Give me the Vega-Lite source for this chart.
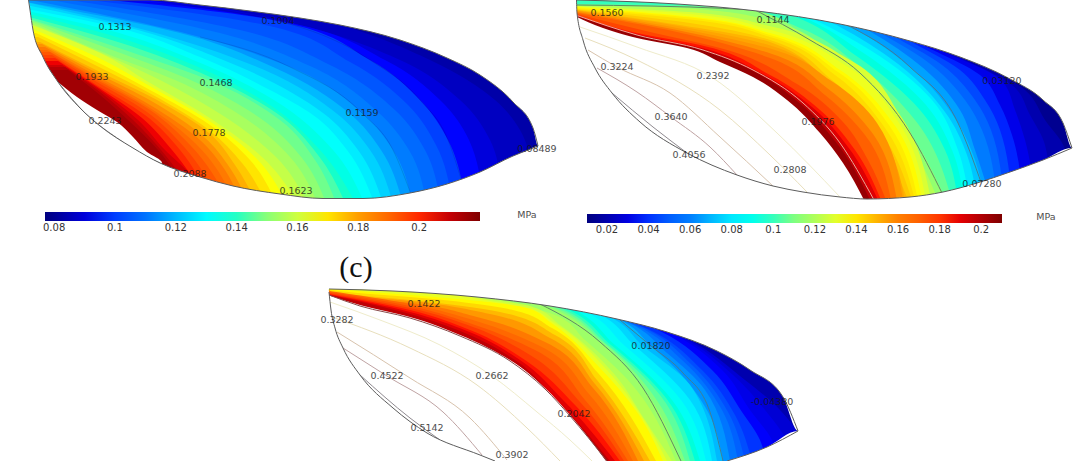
{
"$schema":"https://vega.github.io/schema/vega-lite/v6.json",
"width":1080,"height":461,"padding":0,"autosize":{"type":"none"},"background":"white",
"config":{"view":{"stroke":null},"axis":{"disable":true}},
"datasets":{
"bandsA":[
{"level":0.083,"y":0,"x":541},{"level":0.083,"y":200,"x":541},
{"level":0.0865,"y":0,"x":240},{"level":0.0865,"y":25,"x":340},{"level":0.0865,"y":60,"x":430},{"level":0.0865,"y":100,"x":495},{"level":0.0865,"y":130,"x":520},{"level":0.0865,"y":165,"x":530},{"level":0.0865,"y":200,"x":530},
{"level":0.09,"y":0,"x":180},{"level":0.09,"y":25,"x":300},{"level":0.09,"y":60,"x":400},{"level":0.09,"y":100,"x":460},{"level":0.09,"y":140,"x":490},{"level":0.09,"y":175,"x":500},{"level":0.09,"y":200,"x":502},
{"level":0.095,"y":0,"x":145},{"level":0.095,"y":23,"x":290},{"level":0.095,"y":60,"x":385},{"level":0.095,"y":100,"x":440},{"level":0.095,"y":140,"x":469},{"level":0.095,"y":200,"x":483},
{"level":0.1004,"y":0,"x":110},{"level":0.1004,"y":21,"x":278},{"level":0.1004,"y":60,"x":370},{"level":0.1004,"y":100,"x":420},{"level":0.1004,"y":140,"x":448},{"level":0.1004,"y":182,"x":462},{"level":0.1004,"y":200,"x":465},
{"level":0.104,"y":0,"x":90},{"level":0.104,"y":25,"x":265},{"level":0.104,"y":62,"x":350},{"level":0.104,"y":105,"x":408},{"level":0.104,"y":145,"x":436},{"level":0.104,"y":200,"x":452},
{"level":0.108,"y":0,"x":70},{"level":0.108,"y":30,"x":240},{"level":0.108,"y":65,"x":330},{"level":0.108,"y":110,"x":395},{"level":0.108,"y":150,"x":425},{"level":0.108,"y":200,"x":440},
{"level":0.112,"y":0,"x":50},{"level":0.112,"y":33,"x":220},{"level":0.112,"y":66,"x":310},{"level":0.112,"y":112,"x":378},{"level":0.112,"y":150,"x":409},{"level":0.112,"y":200,"x":426},
{"level":0.1159,"y":0,"x":30},{"level":0.1159,"y":37,"x":200},{"level":0.1159,"y":67,"x":290},{"level":0.1159,"y":113,"x":362},{"level":0.1159,"y":150,"x":393},{"level":0.1159,"y":200,"x":412},
{"level":0.12,"y":0,"x":15},{"level":0.12,"y":33,"x":180},{"level":0.12,"y":67,"x":273},{"level":0.12,"y":113,"x":349},{"level":0.12,"y":150,"x":381},{"level":0.12,"y":200,"x":402},
{"level":0.1236,"y":3,"x":30},{"level":0.1236,"y":30,"x":145},{"level":0.1236,"y":67,"x":257},{"level":0.1236,"y":113,"x":336},{"level":0.1236,"y":150,"x":370},{"level":0.1236,"y":200,"x":392},
{"level":0.1275,"y":6,"x":31},{"level":0.1275,"y":28,"x":130},{"level":0.1275,"y":62,"x":228},{"level":0.1275,"y":113,"x":323},{"level":0.1275,"y":150,"x":358},{"level":0.1275,"y":200,"x":382},
{"level":0.1313,"y":10,"x":32},{"level":0.1313,"y":27,"x":115},{"level":0.1313,"y":57,"x":200},{"level":0.1313,"y":90,"x":270},{"level":0.1313,"y":115,"x":313},{"level":0.1313,"y":150,"x":347},{"level":0.1313,"y":200,"x":373},
{"level":0.135,"y":12,"x":32},{"level":0.135,"y":31,"x":112},{"level":0.135,"y":64,"x":203},{"level":0.135,"y":100,"x":274},{"level":0.135,"y":150,"x":333},{"level":0.135,"y":200,"x":363},
{"level":0.139,"y":15,"x":33},{"level":0.139,"y":35,"x":110},{"level":0.139,"y":70,"x":205},{"level":0.139,"y":105,"x":270},{"level":0.139,"y":150,"x":320},{"level":0.139,"y":200,"x":354},
{"level":0.143,"y":18,"x":33},{"level":0.143,"y":42,"x":118},{"level":0.143,"y":77,"x":210},{"level":0.143,"y":112,"x":275},{"level":0.143,"y":155,"x":318},{"level":0.143,"y":200,"x":344},
{"level":0.1468,"y":20,"x":33},{"level":0.1468,"y":50,"x":125},{"level":0.1468,"y":83,"x":216},{"level":0.1468,"y":120,"x":280},{"level":0.1468,"y":160,"x":315},{"level":0.1468,"y":200,"x":335},
{"level":0.1507,"y":21,"x":33},{"level":0.1507,"y":51,"x":115},{"level":0.1507,"y":82,"x":195},{"level":0.1507,"y":118,"x":260},{"level":0.1507,"y":158,"x":302},{"level":0.1507,"y":200,"x":325},
{"level":0.1545,"y":23,"x":34},{"level":0.1545,"y":53,"x":105},{"level":0.1545,"y":80,"x":175},{"level":0.1545,"y":115,"x":240},{"level":0.1545,"y":157,"x":290},{"level":0.1545,"y":200,"x":316},
{"level":0.1584,"y":25,"x":34},{"level":0.1584,"y":55,"x":106},{"level":0.1584,"y":80,"x":160},{"level":0.1584,"y":115,"x":222},{"level":0.1584,"y":157,"x":276},{"level":0.1584,"y":200,"x":306},
{"level":0.1623,"y":26,"x":34},{"level":0.1623,"y":57,"x":108},{"level":0.1623,"y":80,"x":145},{"level":0.1623,"y":115,"x":205},{"level":0.1623,"y":157,"x":262},{"level":0.1623,"y":200,"x":296},
{"level":0.166,"y":30,"x":35},{"level":0.166,"y":61,"x":105},{"level":0.166,"y":85,"x":148},{"level":0.166,"y":120,"x":208},{"level":0.166,"y":158,"x":256},{"level":0.166,"y":200,"x":285},
{"level":0.17,"y":33,"x":36},{"level":0.17,"y":65,"x":103},{"level":0.17,"y":90,"x":150},{"level":0.17,"y":125,"x":210},{"level":0.17,"y":160,"x":250},{"level":0.17,"y":200,"x":275},
{"level":0.174,"y":37,"x":38},{"level":0.174,"y":68,"x":101},{"level":0.174,"y":95,"x":153},{"level":0.174,"y":130,"x":209},{"level":0.174,"y":163,"x":242},{"level":0.174,"y":200,"x":265},
{"level":0.1778,"y":42,"x":40},{"level":0.1778,"y":72,"x":100},{"level":0.1778,"y":100,"x":157},{"level":0.1778,"y":133,"x":209},{"level":0.1778,"y":165,"x":235},{"level":0.1778,"y":200,"x":255},
{"level":0.1816,"y":44,"x":42},{"level":0.1816,"y":73,"x":97},{"level":0.1816,"y":102,"x":153},{"level":0.1816,"y":137,"x":204},{"level":0.1816,"y":168,"x":230},{"level":0.1816,"y":200,"x":247},
{"level":0.1855,"y":47,"x":45},{"level":0.1855,"y":75,"x":95},{"level":0.1855,"y":105,"x":150},{"level":0.1855,"y":140,"x":200},{"level":0.1855,"y":170,"x":225},{"level":0.1855,"y":200,"x":240},
{"level":0.1894,"y":50,"x":47},{"level":0.1894,"y":76,"x":93},{"level":0.1894,"y":108,"x":150},{"level":0.1894,"y":143,"x":195},{"level":0.1894,"y":200,"x":234},
{"level":0.1933,"y":52,"x":50},{"level":0.1933,"y":77,"x":92},{"level":0.1933,"y":110,"x":150},{"level":0.1933,"y":145,"x":190},{"level":0.1933,"y":200,"x":228},
{"level":0.1966,"y":55,"x":52},{"level":0.1966,"y":79,"x":92},{"level":0.1966,"y":112,"x":147},{"level":0.1966,"y":148,"x":185},{"level":0.1966,"y":200,"x":219},
{"level":0.2,"y":58,"x":55},{"level":0.2,"y":82,"x":92},{"level":0.2,"y":115,"x":145},{"level":0.2,"y":150,"x":180},{"level":0.2,"y":200,"x":210},
{"level":0.2044,"y":61,"x":58},{"level":0.2044,"y":86,"x":96},{"level":0.2044,"y":118,"x":142},{"level":0.2044,"y":150,"x":172},{"level":0.2044,"y":200,"x":207},
{"level":0.2088,"y":65,"x":62},{"level":0.2088,"y":90,"x":100},{"level":0.2088,"y":120,"x":138},{"level":0.2088,"y":150,"x":165},{"level":0.2088,"y":174,"x":190},{"level":0.2088,"y":200,"x":205},
{"level":0.212,"y":67,"x":65},{"level":0.212,"y":92,"x":100},{"level":0.212,"y":120,"x":133},{"level":0.212,"y":150,"x":161},{"level":0.212,"y":200,"x":197},
{"level":0.215,"y":70,"x":68},{"level":0.215,"y":95,"x":100},{"level":0.215,"y":120,"x":128},{"level":0.215,"y":150,"x":158},{"level":0.215,"y":200,"x":190}
],
"bandsB":[
{"level":0.014,"y":0,"x":1076},{"level":0.014,"y":200,"x":1076},
{"level":0.02,"y":0,"x":900},{"level":0.02,"y":60,"x":975},{"level":0.02,"y":90,"x":1025},{"level":0.02,"y":120,"x":1045},{"level":0.02,"y":150,"x":1065},{"level":0.02,"y":200,"x":1070},
{"level":0.025,"y":0,"x":885},{"level":0.025,"y":52,"x":950},{"level":0.025,"y":85,"x":1012},{"level":0.025,"y":115,"x":1030},{"level":0.025,"y":145,"x":1045},{"level":0.025,"y":200,"x":1052},
{"level":0.0312,"y":0,"x":870},{"level":0.0312,"y":45,"x":930},{"level":0.0312,"y":81,"x":1002},{"level":0.0312,"y":110,"x":1015},{"level":0.0312,"y":140,"x":1025},{"level":0.0312,"y":200,"x":1035},
{"level":0.038,"y":0,"x":860},{"level":0.038,"y":42,"x":918},{"level":0.038,"y":75,"x":980},{"level":0.038,"y":105,"x":1000},{"level":0.038,"y":135,"x":1012},{"level":0.038,"y":200,"x":1023},
{"level":0.045,"y":0,"x":850},{"level":0.045,"y":38,"x":905},{"level":0.045,"y":70,"x":960},{"level":0.045,"y":100,"x":985},{"level":0.045,"y":130,"x":1000},{"level":0.045,"y":200,"x":1012},
{"level":0.052,"y":0,"x":835},{"level":0.052,"y":34,"x":890},{"level":0.052,"y":65,"x":942},{"level":0.052,"y":100,"x":975},{"level":0.052,"y":130,"x":991},{"level":0.052,"y":200,"x":1004},
{"level":0.059,"y":0,"x":820},{"level":0.059,"y":30,"x":875},{"level":0.059,"y":60,"x":925},{"level":0.059,"y":100,"x":965},{"level":0.059,"y":130,"x":982},{"level":0.059,"y":200,"x":997},
{"level":0.066,"y":0,"x":805},{"level":0.066,"y":26,"x":860},{"level":0.066,"y":63,"x":917},{"level":0.066,"y":110,"x":960},{"level":0.066,"y":150,"x":975},{"level":0.066,"y":200,"x":991},
{"level":0.0728,"y":0,"x":790},{"level":0.0728,"y":23,"x":843},{"level":0.0728,"y":67,"x":910},{"level":0.0728,"y":123,"x":958},{"level":0.0728,"y":160,"x":975},{"level":0.0728,"y":200,"x":985},
{"level":0.08,"y":0,"x":780},{"level":0.08,"y":21,"x":828},{"level":0.08,"y":58,"x":890},{"level":0.08,"y":112,"x":945},{"level":0.08,"y":155,"x":967},{"level":0.08,"y":200,"x":977},
{"level":0.087,"y":0,"x":770},{"level":0.087,"y":20,"x":815},{"level":0.087,"y":50,"x":870},{"level":0.087,"y":100,"x":932},{"level":0.087,"y":150,"x":958},{"level":0.087,"y":200,"x":969},
{"level":0.093,"y":0,"x":755},{"level":0.093,"y":17,"x":802},{"level":0.093,"y":52,"x":862},{"level":0.093,"y":105,"x":926},{"level":0.093,"y":150,"x":952},{"level":0.093,"y":200,"x":964},
{"level":0.1,"y":0,"x":740},{"level":0.1,"y":15,"x":790},{"level":0.1,"y":55,"x":855},{"level":0.1,"y":110,"x":920},{"level":0.1,"y":150,"x":945},{"level":0.1,"y":200,"x":958},
{"level":0.107,"y":4,"x":577},{"level":0.107,"y":5,"x":650},{"level":0.107,"y":8,"x":740},{"level":0.107,"y":28,"x":800},{"level":0.107,"y":65,"x":858},{"level":0.107,"y":120,"x":915},{"level":0.107,"y":200,"x":952},
{"level":0.1144,"y":5,"x":577},{"level":0.1144,"y":6,"x":650},{"level":0.1144,"y":7,"x":690},{"level":0.1144,"y":10,"x":755},{"level":0.1144,"y":40,"x":810},{"level":0.1144,"y":73,"x":860},{"level":0.1144,"y":133,"x":910},{"level":0.1144,"y":200,"x":946},
{"level":0.121,"y":5.5,"x":577},{"level":0.121,"y":8,"x":680},{"level":0.121,"y":18,"x":760},{"level":0.121,"y":50,"x":830},{"level":0.121,"y":95,"x":880},{"level":0.121,"y":150,"x":915},{"level":0.121,"y":200,"x":938},
{"level":0.128,"y":6,"x":577},{"level":0.128,"y":13,"x":700},{"level":0.128,"y":25,"x":765},{"level":0.128,"y":60,"x":850},{"level":0.128,"y":115,"x":900},{"level":0.128,"y":200,"x":931},
{"level":0.132,"y":6.5,"x":577},{"level":0.132,"y":15,"x":700},{"level":0.132,"y":29,"x":767},{"level":0.132,"y":65,"x":845},{"level":0.132,"y":120,"x":897},{"level":0.132,"y":200,"x":926},
{"level":0.136,"y":7,"x":577},{"level":0.136,"y":18,"x":703},{"level":0.136,"y":33,"x":770},{"level":0.136,"y":70,"x":840},{"level":0.136,"y":123,"x":893},{"level":0.136,"y":200,"x":922},
{"level":0.139,"y":8,"x":577},{"level":0.139,"y":19,"x":703},{"level":0.139,"y":35,"x":770},{"level":0.139,"y":72,"x":838},{"level":0.139,"y":125,"x":889},{"level":0.139,"y":200,"x":918},
{"level":0.142,"y":9,"x":577},{"level":0.142,"y":21,"x":703},{"level":0.142,"y":37,"x":770},{"level":0.142,"y":75,"x":835},{"level":0.142,"y":128,"x":885},{"level":0.142,"y":200,"x":915},
{"level":0.146,"y":9.5,"x":577},{"level":0.146,"y":23,"x":690},{"level":0.146,"y":40,"x":770},{"level":0.146,"y":80,"x":832},{"level":0.146,"y":131,"x":880},{"level":0.146,"y":200,"x":912},
{"level":0.15,"y":10,"x":577},{"level":0.15,"y":25,"x":680},{"level":0.15,"y":42,"x":770},{"level":0.15,"y":85,"x":830},{"level":0.15,"y":135,"x":875},{"level":0.15,"y":200,"x":908},
{"level":0.153,"y":10.5,"x":577},{"level":0.153,"y":26,"x":678},{"level":0.153,"y":46,"x":772},{"level":0.153,"y":83,"x":830},{"level":0.153,"y":129,"x":877},{"level":0.153,"y":200,"x":905},
{"level":0.156,"y":11,"x":577},{"level":0.156,"y":28,"x":677},{"level":0.156,"y":50,"x":775},{"level":0.156,"y":80,"x":830},{"level":0.156,"y":123,"x":877},{"level":0.156,"y":200,"x":903},
{"level":0.163,"y":12,"x":577},{"level":0.163,"y":30,"x":677},{"level":0.163,"y":54,"x":772},{"level":0.163,"y":88,"x":827},{"level":0.163,"y":130,"x":870},{"level":0.163,"y":200,"x":897},
{"level":0.17,"y":13,"x":577},{"level":0.17,"y":32,"x":677},{"level":0.17,"y":58,"x":770},{"level":0.17,"y":95,"x":825},{"level":0.17,"y":135,"x":865},{"level":0.17,"y":200,"x":891},
{"level":0.177,"y":14,"x":577},{"level":0.177,"y":32,"x":650},{"level":0.177,"y":48,"x":720},{"level":0.177,"y":84,"x":797},{"level":0.177,"y":122,"x":843},{"level":0.177,"y":160,"x":868},{"level":0.177,"y":200,"x":886},
{"level":0.184,"y":15,"x":577},{"level":0.184,"y":33,"x":637},{"level":0.184,"y":45,"x":700},{"level":0.184,"y":75,"x":770},{"level":0.184,"y":110,"x":820},{"level":0.184,"y":150,"x":855},{"level":0.184,"y":200,"x":881},
{"level":0.191,"y":15.2,"x":577},{"level":0.191,"y":34,"x":637},{"level":0.191,"y":48,"x":702},{"level":0.191,"y":73,"x":761},{"level":0.191,"y":107,"x":812},{"level":0.191,"y":147,"x":848},{"level":0.191,"y":200,"x":878},
{"level":0.1976,"y":15.5,"x":577},{"level":0.1976,"y":35,"x":637},{"level":0.1976,"y":50,"x":703},{"level":0.1976,"y":70,"x":753},{"level":0.1976,"y":103,"x":803},{"level":0.1976,"y":143,"x":840},{"level":0.1976,"y":200,"x":874},
{"level":0.205,"y":16,"x":577},{"level":0.205,"y":33,"x":630},{"level":0.205,"y":48,"x":697},{"level":0.205,"y":68,"x":747},{"level":0.205,"y":101,"x":797},{"level":0.205,"y":141,"x":835},{"level":0.205,"y":200,"x":870}
],
"bandsC":[
{"level":-0.05,"y":285,"x":802},{"level":-0.05,"y":461,"x":802},
{"level":-0.04,"y":285,"x":560},{"level":-0.04,"y":340,"x":690},{"level":-0.04,"y":380,"x":745},{"level":-0.04,"y":410,"x":780},{"level":-0.04,"y":440,"x":800},{"level":-0.04,"y":461,"x":802},
{"level":-0.035,"y":285,"x":550},{"level":-0.035,"y":337,"x":682},{"level":-0.035,"y":375,"x":733},{"level":-0.035,"y":410,"x":765},{"level":-0.035,"y":440,"x":786},{"level":-0.035,"y":461,"x":791},
{"level":-0.03,"y":285,"x":540},{"level":-0.03,"y":335,"x":675},{"level":-0.03,"y":370,"x":722},{"level":-0.03,"y":410,"x":750},{"level":-0.03,"y":440,"x":772},{"level":-0.03,"y":461,"x":780},
{"level":-0.022,"y":285,"x":530},{"level":-0.022,"y":332,"x":662},{"level":-0.022,"y":370,"x":712},{"level":-0.022,"y":412,"x":742},{"level":-0.022,"y":440,"x":760},{"level":-0.022,"y":461,"x":766},
{"level":-0.015,"y":285,"x":520},{"level":-0.015,"y":330,"x":650},{"level":-0.015,"y":370,"x":702},{"level":-0.015,"y":415,"x":735},{"level":-0.015,"y":461,"x":752},
{"level":-0.008,"y":285,"x":515},{"level":-0.008,"y":327,"x":642},{"level":-0.008,"y":365,"x":692},{"level":-0.008,"y":412,"x":728},{"level":-0.008,"y":461,"x":745},
{"level":0,"y":285,"x":510},{"level":0,"y":325,"x":635},{"level":0,"y":360,"x":682},{"level":0,"y":410,"x":722},{"level":0,"y":461,"x":738},
{"level":0.009,"y":285,"x":505},{"level":0.009,"y":322,"x":627},{"level":0.009,"y":353,"x":667},{"level":0.009,"y":390,"x":705},{"level":0.009,"y":461,"x":730},
{"level":0.0182,"y":285,"x":500},{"level":0.0182,"y":320,"x":620},{"level":0.0182,"y":346,"x":651},{"level":0.0182,"y":368,"x":675},{"level":0.0182,"y":412,"x":708},{"level":0.0182,"y":461,"x":723},
{"level":0.026,"y":285,"x":495},{"level":0.026,"y":315,"x":605},{"level":0.026,"y":346,"x":643},{"level":0.026,"y":385,"x":690},{"level":0.026,"y":461,"x":717},
{"level":0.034,"y":285,"x":490},{"level":0.034,"y":310,"x":590},{"level":0.034,"y":346,"x":635},{"level":0.034,"y":400,"x":690},{"level":0.034,"y":461,"x":712},
{"level":0.042,"y":285,"x":485},{"level":0.042,"y":308,"x":577},{"level":0.042,"y":346,"x":625},{"level":0.042,"y":400,"x":681},{"level":0.042,"y":461,"x":706},
{"level":0.05,"y":285,"x":480},{"level":0.05,"y":306,"x":565},{"level":0.05,"y":345,"x":615},{"level":0.05,"y":400,"x":672},{"level":0.05,"y":461,"x":700},
{"level":0.0575,"y":285,"x":475},{"level":0.0575,"y":305,"x":557},{"level":0.0575,"y":345,"x":611},{"level":0.0575,"y":398,"x":666},{"level":0.0575,"y":461,"x":695},
{"level":0.065,"y":285,"x":470},{"level":0.065,"y":304,"x":550},{"level":0.065,"y":345,"x":608},{"level":0.065,"y":395,"x":660},{"level":0.065,"y":461,"x":690},
{"level":0.0725,"y":285,"x":465},{"level":0.0725,"y":304,"x":545},{"level":0.0725,"y":343,"x":604},{"level":0.0725,"y":392,"x":651},{"level":0.0725,"y":461,"x":685},
{"level":0.0802,"y":285,"x":460},{"level":0.0802,"y":304,"x":540},{"level":0.0802,"y":342,"x":600},{"level":0.0802,"y":388,"x":643},{"level":0.0802,"y":461,"x":681},
{"level":0.087,"y":285,"x":455},{"level":0.087,"y":300,"x":505},{"level":0.087,"y":315,"x":555},{"level":0.087,"y":340,"x":585},{"level":0.087,"y":380,"x":628},{"level":0.087,"y":461,"x":676},
{"level":0.094,"y":285,"x":450},{"level":0.094,"y":298,"x":480},{"level":0.094,"y":306,"x":530},{"level":0.094,"y":325,"x":560},{"level":0.094,"y":375,"x":615},{"level":0.094,"y":420,"x":645},{"level":0.094,"y":461,"x":672},
{"level":0.1,"y":285,"x":440},{"level":0.1,"y":298,"x":475},{"level":0.1,"y":308,"x":528},{"level":0.1,"y":322,"x":553},{"level":0.1,"y":370,"x":607},{"level":0.1,"y":415,"x":641},{"level":0.1,"y":461,"x":667},
{"level":0.107,"y":285,"x":300},{"level":0.107,"y":292,"x":370},{"level":0.107,"y":295,"x":410},{"level":0.107,"y":308,"x":527},{"level":0.107,"y":322,"x":550},{"level":0.107,"y":368,"x":600},{"level":0.107,"y":412,"x":637},{"level":0.107,"y":461,"x":663},
{"level":0.116,"y":286,"x":300},{"level":0.116,"y":293,"x":358},{"level":0.116,"y":297,"x":410},{"level":0.116,"y":310,"x":513},{"level":0.116,"y":328,"x":552},{"level":0.116,"y":373,"x":598},{"level":0.116,"y":461,"x":656},
{"level":0.125,"y":288,"x":300},{"level":0.125,"y":294,"x":345},{"level":0.125,"y":300,"x":410},{"level":0.125,"y":312,"x":500},{"level":0.125,"y":335,"x":555},{"level":0.125,"y":380,"x":597},{"level":0.125,"y":461,"x":650},
{"level":0.133,"y":289,"x":315},{"level":0.133,"y":295,"x":342},{"level":0.133,"y":301,"x":410},{"level":0.133,"y":314,"x":490},{"level":0.133,"y":338,"x":550},{"level":0.133,"y":384,"x":595},{"level":0.133,"y":461,"x":644},
{"level":0.1422,"y":290,"x":329},{"level":0.1422,"y":296,"x":340},{"level":0.1422,"y":303,"x":410},{"level":0.1422,"y":317,"x":477},{"level":0.1422,"y":342,"x":545},{"level":0.1422,"y":388,"x":593},{"level":0.1422,"y":461,"x":638},
{"level":0.15,"y":291,"x":329},{"level":0.15,"y":304,"x":410},{"level":0.15,"y":321,"x":476},{"level":0.15,"y":346,"x":540},{"level":0.15,"y":394,"x":589},{"level":0.15,"y":461,"x":633},
{"level":0.158,"y":292,"x":329},{"level":0.158,"y":306,"x":410},{"level":0.158,"y":325,"x":475},{"level":0.158,"y":350,"x":535},{"level":0.158,"y":400,"x":585},{"level":0.158,"y":461,"x":628},
{"level":0.165,"y":293,"x":329},{"level":0.165,"y":308,"x":410},{"level":0.165,"y":327,"x":473},{"level":0.165,"y":355,"x":530},{"level":0.165,"y":402,"x":580},{"level":0.165,"y":461,"x":624},
{"level":0.172,"y":294,"x":329},{"level":0.172,"y":310,"x":410},{"level":0.172,"y":330,"x":470},{"level":0.172,"y":360,"x":525},{"level":0.172,"y":405,"x":575},{"level":0.172,"y":461,"x":620},
{"level":0.181,"y":294.5,"x":329},{"level":0.181,"y":312,"x":410},{"level":0.181,"y":331,"x":467},{"level":0.181,"y":360,"x":520},{"level":0.181,"y":400,"x":563},{"level":0.181,"y":461,"x":615},
{"level":0.19,"y":295,"x":329},{"level":0.19,"y":314,"x":410},{"level":0.19,"y":333,"x":465},{"level":0.19,"y":360,"x":515},{"level":0.19,"y":395,"x":552},{"level":0.19,"y":461,"x":610},
{"level":0.2,"y":295.2,"x":329},{"level":0.2,"y":307,"x":360},{"level":0.2,"y":319,"x":410},{"level":0.2,"y":337,"x":460},{"level":0.2,"y":362,"x":510},{"level":0.2,"y":390,"x":545},{"level":0.2,"y":417,"x":570},{"level":0.2,"y":461,"x":608}
],
"inner":[
{"panel":"a","left":0,"y":82,"x":58},{"panel":"a","left":0,"y":97,"x":77},{"panel":"a","left":0,"y":110,"x":97},{"panel":"a","left":0,"y":122,"x":117},{"panel":"a","left":0,"y":137,"x":133},{"panel":"a","left":0,"y":152,"x":147},{"panel":"a","left":0,"y":163,"x":162},{"panel":"a","left":0,"y":200,"x":162},
{"panel":"b","left":560,"y":17,"x":577},{"panel":"b","left":560,"y":28,"x":603},{"panel":"b","left":560,"y":38,"x":637},{"panel":"b","left":560,"y":48,"x":687},{"panel":"b","left":560,"y":62,"x":720},{"panel":"b","left":560,"y":77,"x":753},{"panel":"b","left":560,"y":100,"x":787},{"panel":"b","left":560,"y":133,"x":820},{"panel":"b","left":560,"y":163,"x":843},{"panel":"b","left":560,"y":200,"x":864},
{"panel":"c","left":300,"y":295.5,"x":329},{"panel":"c","left":300,"y":305,"x":360},{"panel":"c","left":300,"y":317,"x":410},{"panel":"c","left":300,"y":335,"x":460},{"panel":"c","left":300,"y":360,"x":510},{"panel":"c","left":300,"y":388,"x":545},{"panel":"c","left":300,"y":415,"x":570},{"panel":"c","left":300,"y":461,"x":606}
],
"contours":[
{"id":"a1004","tone":"faint","x":110,"y":0},{"id":"a1004","tone":"faint","x":278,"y":21},{"id":"a1004","tone":"faint","x":370,"y":60},{"id":"a1004","tone":"faint","x":420,"y":100},{"id":"a1004","tone":"faint","x":448,"y":140},{"id":"a1004","tone":"faint","x":462,"y":182},
{"id":"a1159","tone":"faint","x":200,"y":37},{"id":"a1159","tone":"faint","x":290,"y":67},{"id":"a1159","tone":"faint","x":362,"y":113},{"id":"a1159","tone":"faint","x":393,"y":150},{"id":"a1159","tone":"faint","x":412,"y":197},
{"id":"a2243","tone":"grey","x":58,"y":82},{"id":"a2243","tone":"grey","x":85,"y":113},{"id":"a2243","tone":"grey","x":117,"y":138},{"id":"a2243","tone":"grey","x":147,"y":157},{"id":"a2243","tone":"grey","x":160,"y":163},
{"id":"b0728","tone":"steel","x":843,"y":23},{"id":"b0728","tone":"steel","x":910,"y":67},{"id":"b0728","tone":"steel","x":958,"y":123},{"id":"b0728","tone":"steel","x":982,"y":185},
{"id":"b1144","tone":"sage","x":755,"y":10},{"id":"b1144","tone":"sage","x":810,"y":40},{"id":"b1144","tone":"sage","x":860,"y":73},{"id":"b1144","tone":"sage","x":910,"y":133},{"id":"b1144","tone":"sage","x":943,"y":195},
{"id":"b1144b","tone":"sage","x":577,"y":5},{"id":"b1144b","tone":"sage","x":650,"y":6},{"id":"b1144b","tone":"sage","x":690,"y":7},{"id":"b1144b","tone":"sage","x":755,"y":10},
{"id":"b1976","tone":"rose","x":577,"y":15.5},{"id":"b1976","tone":"rose","x":637,"y":35},{"id":"b1976","tone":"rose","x":703,"y":50},{"id":"b1976","tone":"rose","x":753,"y":70},{"id":"b1976","tone":"rose","x":803,"y":103},{"id":"b1976","tone":"rose","x":840,"y":143},{"id":"b1976","tone":"rose","x":874,"y":200},
{"id":"b2392","tone":"pale","x":580,"y":27},{"id":"b2392","tone":"pale","x":637,"y":47},{"id":"b2392","tone":"pale","x":713,"y":78},{"id":"b2392","tone":"pale","x":777,"y":133},{"id":"b2392","tone":"pale","x":840,"y":197},
{"id":"b2808","tone":"sand","x":585,"y":38},{"id":"b2808","tone":"sand","x":637,"y":60},{"id":"b2808","tone":"sand","x":720,"y":110},{"id":"b2808","tone":"sand","x":770,"y":155},{"id":"b2808","tone":"sand","x":807,"y":192},
{"id":"b3224","tone":"clay","x":588,"y":50},{"id":"b3224","tone":"clay","x":617,"y":67},{"id":"b3224","tone":"clay","x":670,"y":93},{"id":"b3224","tone":"clay","x":720,"y":137},{"id":"b3224","tone":"clay","x":773,"y":186},
{"id":"b3640","tone":"mauve","x":597,"y":68},{"id":"b3640","tone":"mauve","x":637,"y":92},{"id":"b3640","tone":"mauve","x":671,"y":117},{"id":"b3640","tone":"mauve","x":710,"y":147},{"id":"b3640","tone":"mauve","x":737,"y":175},
{"id":"b4056","tone":"slate","x":612,"y":93},{"id":"b4056","tone":"slate","x":653,"y":127},{"id":"b4056","tone":"slate","x":687,"y":153},
{"id":"c0182","tone":"steel","x":620,"y":320},{"id":"c0182","tone":"steel","x":651,"y":346},{"id":"c0182","tone":"steel","x":683,"y":373},{"id":"c0182","tone":"steel","x":710,"y":412},{"id":"c0182","tone":"steel","x":723,"y":461},
{"id":"c0802","tone":"sage","x":540,"y":304},{"id":"c0802","tone":"sage","x":600,"y":342},{"id":"c0802","tone":"sage","x":643,"y":388},{"id":"c0802","tone":"sage","x":681,"y":461},
{"id":"c2042","tone":"brown","x":329,"y":295},{"id":"c2042","tone":"brown","x":360,"y":306},{"id":"c2042","tone":"brown","x":410,"y":318},{"id":"c2042","tone":"brown","x":460,"y":336},{"id":"c2042","tone":"brown","x":510,"y":361},{"id":"c2042","tone":"brown","x":545,"y":389},{"id":"c2042","tone":"brown","x":570,"y":416},{"id":"c2042","tone":"brown","x":607,"y":461},
{"id":"c2662","tone":"pale","x":330,"y":302},{"id":"c2662","tone":"pale","x":380,"y":320},{"id":"c2662","tone":"pale","x":440,"y":345},{"id":"c2662","tone":"pale","x":492,"y":376},{"id":"c2662","tone":"pale","x":537,"y":412},{"id":"c2662","tone":"pale","x":570,"y":440},{"id":"c2662","tone":"pale","x":592,"y":461},
{"id":"c3282","tone":"sand","x":332,"y":317},{"id":"c3282","tone":"sand","x":410,"y":348},{"id":"c3282","tone":"sand","x":477,"y":385},{"id":"c3282","tone":"sand","x":527,"y":428},{"id":"c3282","tone":"sand","x":560,"y":461},
{"id":"c3902","tone":"clay","x":337,"y":332},{"id":"c3902","tone":"clay","x":410,"y":378},{"id":"c3902","tone":"clay","x":470,"y":418},{"id":"c3902","tone":"clay","x":507,"y":460},
{"id":"c4522","tone":"mauve","x":343,"y":348},{"id":"c4522","tone":"mauve","x":387,"y":376},{"id":"c4522","tone":"mauve","x":443,"y":412},{"id":"c4522","tone":"mauve","x":482,"y":455},
{"id":"c5142","tone":"slate","x":360,"y":375},{"id":"c5142","tone":"slate","x":410,"y":418},{"id":"c5142","tone":"slate","x":440,"y":440}
],
"edges":[
{"edge":"a-top","limit":0,"drawn":0,"x":0,"y":0},{"edge":"a-top","limit":0,"drawn":1,"x":29,"y":0},{"edge":"a-top","limit":0,"drawn":1,"x":150,"y":0},{"edge":"a-top","limit":0,"drawn":1,"x":200,"y":5},{"edge":"a-top","limit":0,"drawn":1,"x":250,"y":11},{"edge":"a-top","limit":0,"drawn":1,"x":300,"y":18},{"edge":"a-top","limit":0,"drawn":1,"x":340,"y":25},{"edge":"a-top","limit":0,"drawn":1,"x":400,"y":40},{"edge":"a-top","limit":0,"drawn":1,"x":447,"y":58},{"edge":"a-top","limit":0,"drawn":1,"x":480,"y":75},{"edge":"a-top","limit":0,"drawn":1,"x":513,"y":102},{"edge":"a-top","limit":0,"drawn":1,"x":533,"y":128},{"edge":"a-top","limit":0,"drawn":1,"x":538,"y":146},{"edge":"a-top","limit":0,"drawn":0,"x":545,"y":146},
{"edge":"a-low","limit":205,"drawn":0,"x":0,"y":0},{"edge":"a-low","limit":205,"drawn":1,"x":28.5,"y":0},{"edge":"a-low","limit":205,"drawn":1,"x":30,"y":10},{"edge":"a-low","limit":205,"drawn":1,"x":33,"y":30},{"edge":"a-low","limit":205,"drawn":1,"x":43,"y":57},{"edge":"a-low","limit":205,"drawn":1,"x":58,"y":82},{"edge":"a-low","limit":205,"drawn":1,"x":80,"y":108},{"edge":"a-low","limit":205,"drawn":1,"x":100,"y":126},{"edge":"a-low","limit":205,"drawn":1,"x":133,"y":148},{"edge":"a-low","limit":205,"drawn":1,"x":160,"y":163},{"edge":"a-low","limit":205,"drawn":1,"x":200,"y":177},{"edge":"a-low","limit":205,"drawn":1,"x":233,"y":186},{"edge":"a-low","limit":205,"drawn":1,"x":280,"y":194},{"edge":"a-low","limit":205,"drawn":1,"x":323,"y":198.5},{"edge":"a-low","limit":205,"drawn":1,"x":363,"y":198.5},{"edge":"a-low","limit":205,"drawn":1,"x":410,"y":193},{"edge":"a-low","limit":205,"drawn":1,"x":447,"y":184},{"edge":"a-low","limit":205,"drawn":1,"x":480,"y":172},{"edge":"a-low","limit":205,"drawn":1,"x":513,"y":156},{"edge":"a-low","limit":205,"drawn":1,"x":528,"y":150},{"edge":"a-low","limit":205,"drawn":1,"x":538,"y":146},{"edge":"a-low","limit":205,"drawn":0,"x":545,"y":146},
{"edge":"b-top","limit":0,"drawn":0,"x":560,"y":0},{"edge":"b-top","limit":0,"drawn":1,"x":577,"y":0},{"edge":"b-top","limit":0,"drawn":1,"x":677,"y":4},{"edge":"b-top","limit":0,"drawn":1,"x":757,"y":11},{"edge":"b-top","limit":0,"drawn":1,"x":840,"y":24},{"edge":"b-top","limit":0,"drawn":1,"x":910,"y":41},{"edge":"b-top","limit":0,"drawn":1,"x":960,"y":57},{"edge":"b-top","limit":0,"drawn":1,"x":1010,"y":79},{"edge":"b-top","limit":0,"drawn":1,"x":1043,"y":100},{"edge":"b-top","limit":0,"drawn":1,"x":1063,"y":123},{"edge":"b-top","limit":0,"drawn":1,"x":1072,"y":148},{"edge":"b-top","limit":0,"drawn":0,"x":1080,"y":148},
{"edge":"b-low","limit":205,"drawn":0,"x":560,"y":0},{"edge":"b-low","limit":205,"drawn":1,"x":576.5,"y":0},{"edge":"b-low","limit":205,"drawn":1,"x":577,"y":13},{"edge":"b-low","limit":205,"drawn":1,"x":583,"y":40},{"edge":"b-low","limit":205,"drawn":1,"x":595,"y":68},{"edge":"b-low","limit":205,"drawn":1,"x":612,"y":93},{"edge":"b-low","limit":205,"drawn":1,"x":640,"y":122},{"edge":"b-low","limit":205,"drawn":1,"x":687,"y":153},{"edge":"b-low","limit":205,"drawn":1,"x":737,"y":175},{"edge":"b-low","limit":205,"drawn":1,"x":773,"y":186},{"edge":"b-low","limit":205,"drawn":1,"x":803,"y":192},{"edge":"b-low","limit":205,"drawn":1,"x":840,"y":197},{"edge":"b-low","limit":205,"drawn":1,"x":867,"y":199},{"edge":"b-low","limit":205,"drawn":1,"x":910,"y":197},{"edge":"b-low","limit":205,"drawn":1,"x":943,"y":192},{"edge":"b-low","limit":205,"drawn":1,"x":977,"y":183},{"edge":"b-low","limit":205,"drawn":1,"x":1010,"y":172},{"edge":"b-low","limit":205,"drawn":1,"x":1043,"y":160},{"edge":"b-low","limit":205,"drawn":1,"x":1072,"y":148},{"edge":"b-low","limit":205,"drawn":0,"x":1080,"y":148},
{"edge":"c-top","limit":285,"drawn":0,"x":300,"y":289},{"edge":"c-top","limit":285,"drawn":1,"x":329,"y":289},{"edge":"c-top","limit":285,"drawn":1,"x":393,"y":291},{"edge":"c-top","limit":285,"drawn":1,"x":477,"y":297},{"edge":"c-top","limit":285,"drawn":1,"x":550,"y":306},{"edge":"c-top","limit":285,"drawn":1,"x":617,"y":319},{"edge":"c-top","limit":285,"drawn":1,"x":667,"y":332},{"edge":"c-top","limit":285,"drawn":1,"x":717,"y":351},{"edge":"c-top","limit":285,"drawn":1,"x":750,"y":370},{"edge":"c-top","limit":285,"drawn":1,"x":783,"y":397},{"edge":"c-top","limit":285,"drawn":1,"x":798,"y":431},{"edge":"c-top","limit":285,"drawn":0,"x":805,"y":431},
{"edge":"c-left","limit":461,"drawn":0,"x":300,"y":285},{"edge":"c-left","limit":461,"drawn":0,"x":328.5,"y":285},{"edge":"c-left","limit":461,"drawn":1,"x":329,"y":292},{"edge":"c-left","limit":461,"drawn":1,"x":331,"y":310},{"edge":"c-left","limit":461,"drawn":1,"x":335,"y":328},{"edge":"c-left","limit":461,"drawn":1,"x":343,"y":348},{"edge":"c-left","limit":461,"drawn":1,"x":360,"y":375},{"edge":"c-left","limit":461,"drawn":1,"x":393,"y":408},{"edge":"c-left","limit":461,"drawn":1,"x":427,"y":433},{"edge":"c-left","limit":461,"drawn":1,"x":480,"y":455},{"edge":"c-left","limit":461,"drawn":1,"x":495,"y":461},
{"edge":"c-right","limit":461,"drawn":1,"x":727,"y":461},{"edge":"c-right","limit":461,"drawn":1,"x":767,"y":447},{"edge":"c-right","limit":461,"drawn":1,"x":798,"y":431},{"edge":"c-right","limit":461,"drawn":0,"x":805,"y":431}
],
"labels":[
{"text":"0.1313","x":115,"y":27},{"text":"0.1004","x":278,"y":21},{"text":"0.1468","x":216,"y":83},{"text":"0.1933","x":92,"y":77},{"text":"0.2243","x":105,"y":121},{"text":"0.1159","x":362,"y":113},{"text":"0.1778","x":209,"y":133},{"text":"0.2088","x":190,"y":174},{"text":"0.1623","x":296,"y":191},{"text":"0.08489","x":537,"y":149},{"text":"MPa","x":527,"y":215},
{"text":"0.1560","x":607,"y":13},{"text":"0.1144","x":773,"y":20},{"text":"0.3224","x":617,"y":67},{"text":"0.2392","x":713,"y":76},{"text":"0.3640","x":671,"y":117},{"text":"0.1976","x":818,"y":122},{"text":"0.4056","x":689,"y":155},{"text":"0.2808","x":790,"y":170},{"text":"0.07280","x":982,"y":184},{"text":"0.03120","x":1002,"y":81},{"text":"MPa","x":1046,"y":217},
{"text":"0.1422","x":424,"y":304},{"text":"0.3282","x":337,"y":320},{"text":"0.2662","x":492,"y":376},{"text":"0.4522","x":387,"y":376},{"text":"0.2042","x":574,"y":414},{"text":"0.5142","x":427,"y":428},{"text":"0.3902","x":512,"y":455},{"text":"0.01820","x":651,"y":346},{"text":"-0.04380","x":772,"y":402}
],
"headings":[{"text":"(c)","x":356,"y":268}]
},
"layer":[
{"data":{"name":"bandsA"},"mark":{"type":"area","orient":"horizontal","interpolate":"monotone"},
 "encoding":{"y":{"field":"y","type":"quantitative","scale":{"domain":[461,0],"nice":false}},"x":{"field":"x","type":"quantitative","stack":null,"scale":{"domain":[0,1080],"nice":false}},"x2":{"datum":0},"detail":{"field":"level"},
 "color":{"field":"level","type":"quantitative","scale":{"domain":[0.077,0.22],"range":["#00007f","#0000ff","#007fff","#00ffff","#7fff7f","#ffff00","#ff7f00","#ff0000","#7f0000"]},
 "legend":{"orient":"none","legendX":45,"legendY":212,"direction":"horizontal","gradientLength":435,"gradientThickness":9,"title":null,"values":[0.08,0.1,0.12,0.14,0.16,0.18,0.2],"format":"~g","labelFont":"DejaVu Sans","labelFontSize":10,"labelColor":"#333333","labelOverlap":false}}}},
{"data":{"name":"bandsB"},"mark":{"type":"area","orient":"horizontal","interpolate":"monotone"},
 "encoding":{"y":{"field":"y","type":"quantitative","scale":{"domain":[461,0],"nice":false}},"x":{"field":"x","type":"quantitative","stack":null,"scale":{"domain":[0,1080],"nice":false}},"x2":{"datum":560},"detail":{"field":"level"},
 "color":{"field":"level","type":"quantitative","scale":{"domain":[0.0104,0.21],"range":["#00007f","#0000ff","#007fff","#00ffff","#7fff7f","#ffff00","#ff7f00","#ff0000","#7f0000"]},
 "legend":{"orient":"none","legendX":587,"legendY":214,"direction":"horizontal","gradientLength":415,"gradientThickness":9,"title":null,"values":[0.02,0.04,0.06,0.08,0.1,0.12,0.14,0.16,0.18,0.2],"format":"~g","labelFont":"DejaVu Sans","labelFontSize":10,"labelColor":"#333333","labelOverlap":false}}}},
{"data":{"name":"bandsC"},"mark":{"type":"area","orient":"horizontal","interpolate":"monotone"},
 "encoding":{"y":{"field":"y","type":"quantitative","scale":{"domain":[461,0],"nice":false}},"x":{"field":"x","type":"quantitative","stack":null,"scale":{"domain":[0,1080],"nice":false}},"x2":{"datum":300},"detail":{"field":"level"},
 "color":{"field":"level","type":"quantitative","scale":{"domain":[-0.063,0.207],"range":["#00007f","#0000ff","#007fff","#00ffff","#7fff7f","#ffff00","#ff7f00","#ff0000","#7f0000"]},"legend":null}}},
{"data":{"name":"inner"},"mark":{"type":"area","orient":"horizontal","interpolate":"monotone","color":"white"},
 "encoding":{"y":{"field":"y","type":"quantitative","scale":{"domain":[461,0],"nice":false}},"x":{"field":"x","type":"quantitative","stack":null,"scale":{"domain":[0,1080],"nice":false}},"x2":{"field":"left"},"detail":{"field":"panel"}}},
{"data":{"name":"contours"},"mark":{"type":"line","interpolate":"monotone","strokeWidth":1},
 "encoding":{"x":{"field":"x","type":"quantitative","scale":{"domain":[0,1080],"nice":false}},"y":{"field":"y","type":"quantitative","scale":{"domain":[461,0],"nice":false}},"detail":{"field":"id"},
 "color":{"field":"tone","type":"nominal","legend":null,"scale":{"domain":["faint","grey","steel","sage","rose","brown","pale","sand","clay","mauve","slate"],"range":["rgba(0,0,40,0.12)","#8c8c8c","#3f7f96","#5f8a66","#f0a898","#8a4a4a","#efeccb","#e8dfbc","#d8c3ad","#bfa3a3","#8f8a90"]}}}},
{"data":{"name":"edges"},"mark":{"type":"area","interpolate":"monotone","color":"white"},
 "encoding":{"x":{"field":"x","type":"quantitative","scale":{"domain":[0,1080],"nice":false}},"y":{"field":"y","type":"quantitative","stack":null,"scale":{"domain":[461,0],"nice":false}},"y2":{"field":"limit"},"detail":{"field":"edge"}}},
{"data":{"name":"edges"},"transform":[{"filter":"datum.drawn == 1"}],"mark":{"type":"line","interpolate":"monotone","strokeWidth":1,"color":"#5c5c5c"},
 "encoding":{"x":{"field":"x","type":"quantitative","scale":{"domain":[0,1080],"nice":false}},"y":{"field":"y","type":"quantitative","scale":{"domain":[461,0],"nice":false}},"detail":{"field":"edge"}}},
{"data":{"name":"labels"},"mark":{"type":"text","font":"DejaVu Sans","fontSize":9.5,"color":"#1a1a1a","opacity":0.8,"align":"center","baseline":"middle"},
 "encoding":{"x":{"field":"x","type":"quantitative","scale":{"domain":[0,1080],"nice":false}},"y":{"field":"y","type":"quantitative","scale":{"domain":[461,0],"nice":false}},"text":{"field":"text"}}},
{"data":{"name":"headings"},"mark":{"type":"text","font":"Liberation Serif","fontSize":30,"color":"#111111","align":"center","baseline":"middle"},
 "encoding":{"x":{"field":"x","type":"quantitative","scale":{"domain":[0,1080],"nice":false}},"y":{"field":"y","type":"quantitative","scale":{"domain":[461,0],"nice":false}},"text":{"field":"text"}}}
],
"resolve":{"scale":{"color":"independent"}}
}
